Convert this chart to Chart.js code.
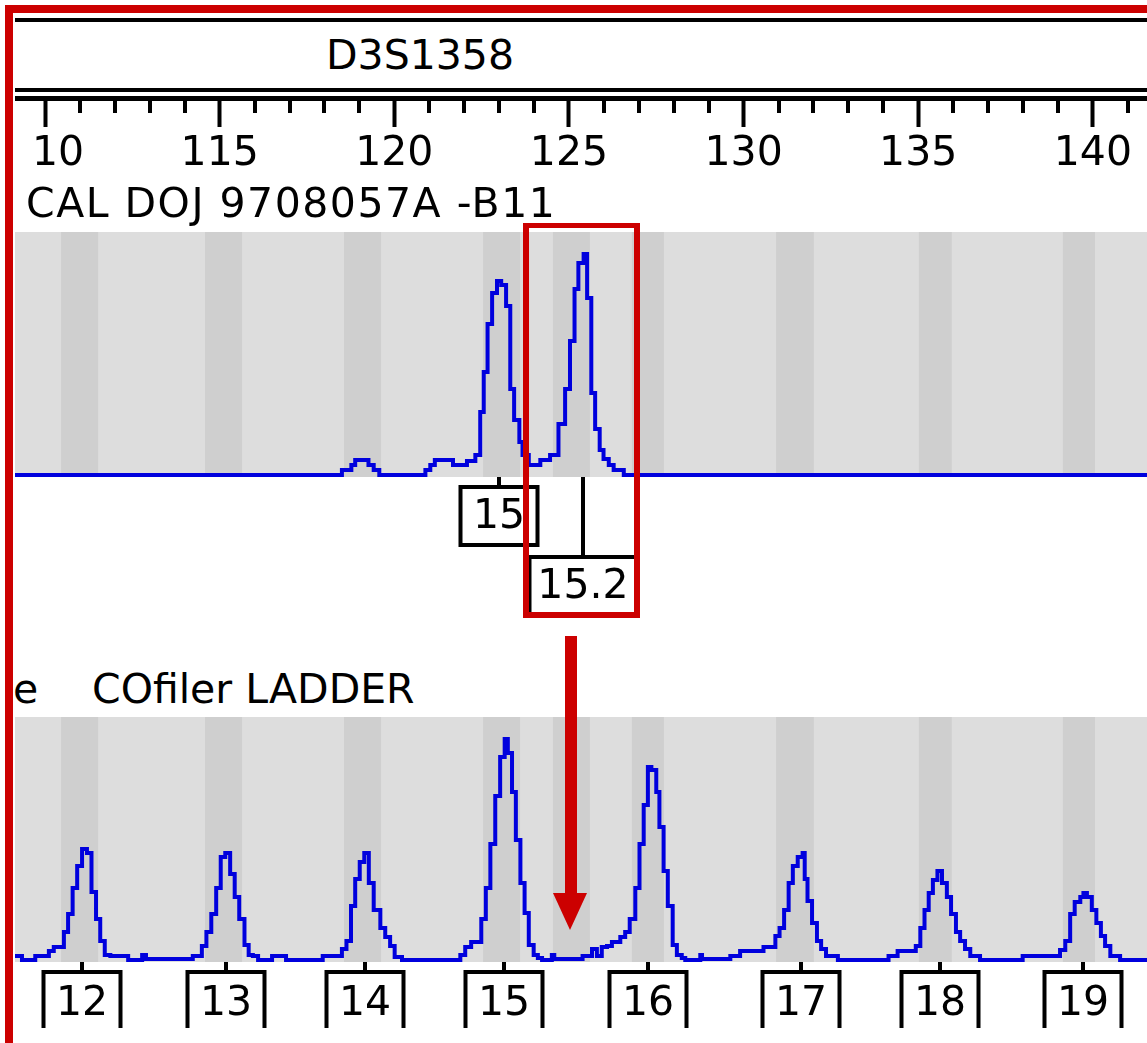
<!DOCTYPE html>
<html lang="en">
<head>
    <meta charset="UTF-8">
    <title>D3S1358 - CAL DOJ 9708057A -B11 vs COfiler LADDER</title>
    <script src="https://cdn.jsdelivr.net/npm/chart.js"></script>
    <style>
        body {
            margin: 0;
            background: #ffffff;
            font-family: 'DejaVu Sans', sans-serif;
        }
        #page {
            position: relative;
            width: 1147px;
            height: 1043px;
            overflow: hidden;
            background: #ffffff;
        }
        canvas { position: absolute; left: 15px; }
        #rulerBox {
            position: absolute;
            left: 30px; top: 0;
            width: 1117px; height: 232px;
            overflow: hidden;
        }
        #rulerBox canvas { left: -75px; top: 0; }
        .rule { position: absolute; left: 15px; right: 0; background: #000; }
        .txt {
            position: absolute;
            font-size: 41px;
            line-height: 41px;
            color: #000;
            white-space: pre;
        }
        .red { position: absolute; background: #cc0000; z-index: 5; }
        #redBox {
            position: absolute;
            left: 523px; top: 223px; width: 117px; height: 395px;
            box-sizing: border-box;
            border: solid #cc0000;
            border-width: 5px 6px 6px 6px;
            z-index: 5;
        }
        #arrowHead {
            position: absolute;
            left: 553px; top: 893px; width: 0; height: 0;
            border-left: 17.5px solid transparent;
            border-right: 17.5px solid transparent;
            border-top: 37px solid #cc0000;
            z-index: 5;
        }
    </style>
</head>
<body>
<div id="page">
    <div class="rule" style="top:18px;height:4px"></div>
    <div class="rule" style="top:88px;height:4px"></div>
    <div class="rule" style="top:96px;height:5px"></div>
    <div class="txt" style="left:326px;top:35px">D3S1358</div>

    <div id="rulerBox"><canvas id="ruler" width="1192" height="232"></canvas></div>

    <div class="txt" style="left:26px;top:183px;letter-spacing:1.5px">CAL DOJ 9708057A -B11</div>
    <canvas id="sample" width="1132" height="400" style="top:232px"></canvas>

    <div class="txt" style="left:13px;top:669px">e</div>
    <div class="txt" style="left:92px;top:669px">COfiler LADDER</div>
    <canvas id="ladder" width="1132" height="326" style="top:717px"></canvas>

    <div id="redBox"></div>
    <div class="red" style="left:565px;top:636px;width:12px;height:258px"></div>
    <div id="arrowHead"></div>
    <div class="red" style="left:5px;top:5px;width:1142px;height:8px"></div>
    <div class="red" style="left:5px;top:5px;width:8px;height:1038px"></div>
</div>

<script>
    // size axis (bp)
    const sizeMin = 109.14;
    const sizeMax = 141.55;

    // allele bins (shaded stripes)
    const binLeft  = [110.46, 114.58, 118.56, 122.54, 124.54, 126.80, 130.93, 135.02, 139.14];
    const binRight = [111.52, 115.64, 119.62, 123.60, 125.60, 127.72, 132.01, 135.96, 140.06];

    // sample trace
    const sampleSize = [109.10, 118.50, 118.77, 118.88, 119.26, 119.41, 119.57, 120.89, 121.03, 121.16,
        121.68, 122.08, 122.32, 122.46, 122.56, 122.67, 122.80, 122.94, 123.06, 123.20,
        123.32, 123.43, 123.58, 123.67, 123.85, 124.18, 124.46, 124.70, 124.89, 125.03,
        125.16, 125.27, 125.42, 125.52, 125.64, 125.75, 125.88, 125.99, 126.14, 126.28,
        126.57, 141.60];
    const sampleHeight = [0, 5, 10, 15, 10, 5, 0, 5, 10, 15,
        10, 14, 20, 63, 103, 151, 182, 194, 190, 169,
        86, 55, 33, 20, 10, 15, 20, 51, 86, 134,
        186, 212, 221, 177, 82, 46, 25, 16, 10, 5,
        0, 0];
    const sampleCalls = ['15', '15.2'];
    const sampleCallSize = [123.00, 125.40];

    // ladder trace
    const ladderSize = [109.10, 109.34, 109.72, 110.11, 110.25, 110.54, 110.66, 110.79, 110.92, 111.06,
        111.20, 111.33, 111.46, 111.58, 111.71, 111.87, 112.38, 112.78, 112.89, 114.23,
        114.49, 114.62, 114.76, 114.90, 115.03, 115.16, 115.30, 115.43, 115.56, 115.71,
        115.83, 115.95, 116.10, 116.50, 116.90, 117.95, 118.50, 118.63, 118.76, 118.88,
        119.01, 119.14, 119.27, 119.41, 119.60, 119.74, 119.88, 120.01, 120.22, 121.89,
        122.03, 122.20, 122.49, 122.62, 122.75, 122.89, 123.03, 123.16, 123.25, 123.37,
        123.48, 123.61, 123.73, 123.85, 123.99, 124.11, 124.23, 124.51, 124.58, 125.39,
        125.66, 125.80, 125.94, 126.09, 126.23, 126.47, 126.61, 126.74, 126.90, 127.02,
        127.14, 127.26, 127.36, 127.50, 127.59, 127.71, 127.83, 127.97, 128.09, 128.23,
        128.33, 128.76, 128.81, 129.62, 129.90, 130.57, 130.91, 131.03, 131.16, 131.29,
        131.41, 131.55, 131.69, 131.75, 131.83, 131.96, 132.10, 132.22, 132.36, 132.70,
        134.15, 134.41, 134.93, 135.06, 135.18, 135.30, 135.42, 135.55, 135.68, 135.82,
        135.94, 136.08, 136.20, 136.34, 136.49, 136.77, 137.99, 139.06, 139.21, 139.35,
        139.48, 139.64, 139.73, 139.83, 139.97, 140.10, 140.23, 140.35, 140.50, 140.78,
        141.60];
    const ladderHeight = [4, 0, 4, 9, 13, 28, 46, 72, 94, 111,
        107, 68, 41, 19, 5, 4, 0, 5, 1, 4,
        14, 28, 46, 72, 103, 107, 86, 63, 41, 15,
        5, 4, 0, 4, 0, 4, 11, 19, 54, 81,
        98, 107, 77, 50, 32, 23, 14, 3, 0, 5,
        13, 18, 41, 72, 116, 164, 203, 221, 207, 168,
        120, 77, 47, 15, 5, 2, 0, 5, 1, 4,
        11, 4, 13, 14, 18, 23, 28, 41, 72, 116,
        155, 193, 190, 168, 133, 89, 54, 15, 5, 2,
        0, 5, 1, 4, 9, 13, 24, 32, 50, 77,
        94, 103, 107, 81, 59, 37, 19, 11, 4, 0,
        4, 9, 14, 32, 50, 67, 80, 89, 77, 63,
        46, 28, 19, 11, 4, 0, 4, 10, 19, 46,
        58, 63, 67, 63, 50, 37, 24, 14, 4, 0,
        0];
    const ladderCalls = ['12', '13', '14', '15', '16', '17', '18', '19'];
    const ladderCallSize = [111.06, 115.18, 119.16, 123.14, 127.26, 131.64, 135.62, 139.72];

    const FONT = '41px "DejaVu Sans"';

    // short ticks every 1 bp on the ruler
    const minorTicks = {
        id: 'minorTicks',
        afterDraw(chart) {
            const { ctx, chartArea, scales: { x } } = chart;
            ctx.save();
            ctx.fillStyle = '#000';
            for (let v = Math.ceil(sizeMin); v <= sizeMax; v++) {
                if (v % 5 === 0) continue;
                const px = Math.round(x.getPixelForValue(v));
                ctx.fillRect(px - 2, chartArea.bottom, 4, 12);
            }
            ctx.restore();
        }
    };

    // grey panel with darker bin stripes
    const binShading = {
        id: 'binShading',
        beforeDatasetsDraw(chart) {
            const { ctx, chartArea: a, scales: { x } } = chart;
            ctx.save();
            ctx.fillStyle = '#dddddd';
            ctx.fillRect(a.left, a.top, a.width, a.height);
            ctx.fillStyle = '#cfcfcf';
            binLeft.forEach((b, i) => {
                const l = x.getPixelForValue(b), r = x.getPixelForValue(binRight[i]);
                ctx.fillRect(l, a.top, r - l, a.height);
            });
            ctx.restore();
        }
    };

    // allele call boxes under the trace
    const callBoxes = {
        id: 'callBoxes',
        afterDatasetsDraw(chart, args, o) {
            const { ctx, chartArea: a, scales: { x } } = chart;
            ctx.save();
            ctx.font = FONT;
            ctx.lineWidth = 4;
            ctx.lineJoin = 'miter';
            ctx.strokeStyle = '#000';
            ctx.fillStyle = '#000';
            ctx.textAlign = 'center';
            ctx.textBaseline = 'alphabetic';
            let lastRight = -Infinity, row = 0;
            o.labels.forEach((lab, i) => {
                const px = Math.round(x.getPixelForValue(o.sizes[i]));
                const w = Math.round(Math.max(77, ctx.measureText(lab).width + 16));
                const l = px - w / 2, r = px + w / 2;
                row = l < lastRight ? row + 1 : 0;
                lastRight = r;
                const top = a.bottom + o.gap + row * o.rowStep;
                ctx.beginPath();
                ctx.moveTo(px, a.bottom);
                ctx.lineTo(px, top);
                ctx.stroke();
                ctx.beginPath();
                if (o.open) {
                    ctx.moveTo(l, top + o.boxH);
                    ctx.lineTo(l, top);
                    ctx.lineTo(r, top);
                    ctx.lineTo(r, top + o.boxH);
                } else {
                    ctx.rect(l, top, w, o.boxH);
                }
                ctx.stroke();
                ctx.fillText(lab, px, top + o.textDy);
            });
            ctx.restore();
        }
    };

    new Chart(document.getElementById('ruler'), {
        type: 'line',
        data: { datasets: [{ data: [] }] },
        options: {
            responsive: false,
            animation: false,
            layout: { autoPadding: false, padding: { left: 60, right: 0, top: 0, bottom: 0 } },
            plugins: { legend: { display: false }, tooltip: { enabled: false } },
            scales: {
                x: {
                    type: 'linear',
                    position: 'bottom',
                    min: sizeMin,
                    max: sizeMax,
                    afterFit: s => { s.height = 131; },
                    border: { display: false },
                    grid: { drawOnChartArea: false, drawTicks: true, tickLength: 26, tickWidth: 4, tickColor: '#000' },
                    ticks: {
                        stepSize: 5,
                        includeBounds: false,
                        autoSkip: false,
                        maxRotation: 0,
                        padding: 3,
                        color: '#000',
                        font: { family: 'DejaVu Sans', size: 41 }
                    }
                },
                y: { display: false }
            }
        },
        plugins: [minorTicks]
    });

    function tracePanel(id, sizes, heights, callOpts, bottomPad) {
        return new Chart(document.getElementById(id), {
            type: 'line',
            data: {
                datasets: [{
                    data: sizes.map((s, i) => ({ x: s, y: heights[i] })),
                    borderColor: '#0000dd',
                    borderWidth: 4,
                    borderJoinStyle: 'miter',
                    stepped: true,
                    tension: 0,
                    pointRadius: 0,
                    fill: false
                }]
            },
            options: {
                responsive: false,
                animation: false,
                layout: { autoPadding: false, padding: { left: 0, right: 0, top: 0, bottom: bottomPad } },
                plugins: { legend: { display: false }, tooltip: { enabled: false }, callBoxes: callOpts },
                scales: {
                    x: { type: 'linear', min: sizeMin, max: sizeMax, display: false },
                    y: { min: -2, max: 243, display: false }
                }
            },
            plugins: [binShading, callBoxes]
        });
    }

    tracePanel('sample', sampleSize, sampleHeight,
        { labels: sampleCalls, sizes: sampleCallSize, gap: 10, rowStep: 70, boxH: 58, textDy: 41, open: false }, 155);
    tracePanel('ladder', ladderSize, ladderHeight,
        { labels: ladderCalls, sizes: ladderCallSize, gap: 10, rowStep: 70, boxH: 56, textDy: 43, open: true }, 81);
</script>
</body>
</html>
